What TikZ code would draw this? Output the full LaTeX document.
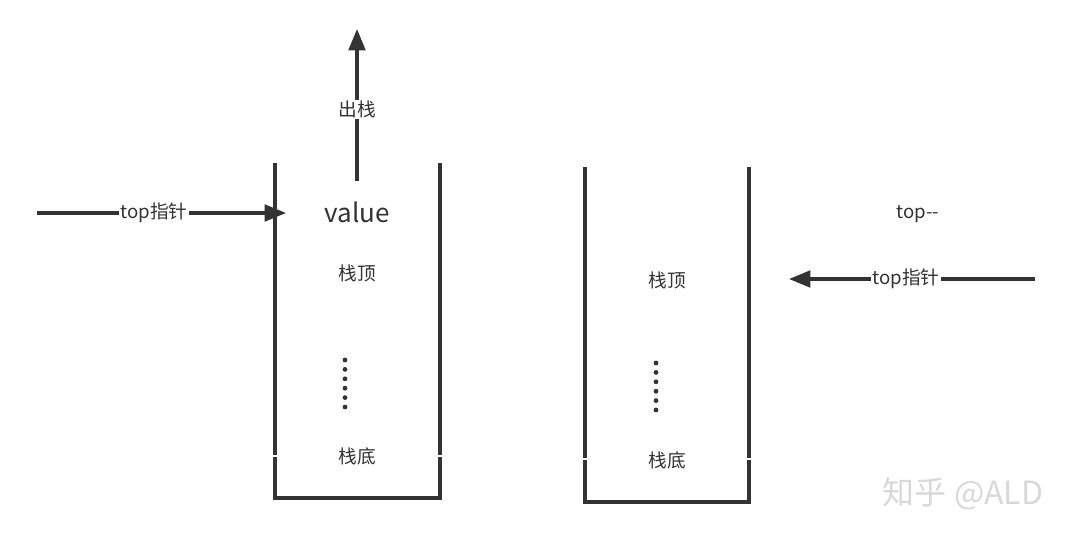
\documentclass[tikz,border=0pt]{standalone}
\usepackage{fontspec}
\setmainfont{Noto Sans CJK SC}
\usetikzlibrary{arrows.meta}
\definecolor{ink}{HTML}{333333}
\definecolor{wm}{HTML}{D8D8D8}
\tikzset{
  wall/.style={draw=ink, line width=2.4pt},
  arr/.style={draw=ink, line width=2.3pt, -{Triangle[length=16pt,width=12.5pt]}},
  lbl/.style={font=\fontsize{14pt}{16pt}\selectfont, text=ink, inner sep=1pt},
  lblw/.style={lbl, fill=white},
  dotst/.style={fill=ink, circle, inner sep=0pt, minimum size=3.6pt},
}
\begin{document}
\begin{tikzpicture}[x=0.75pt, y=-0.75pt]
\useasboundingbox (0,0) rectangle (1073,540);
% left stack
\coordinate (L1) at (275,163); \coordinate (L2) at (275,455);
\coordinate (R1) at (440,163); \coordinate (R2) at (440,455);
\coordinate (L3) at (275,456.5); \coordinate (L4) at (275,498);
\coordinate (R3) at (440,456.5); \coordinate (R4) at (440,498);
\draw[wall] (L1) -- (L2);
\draw[wall] (R1) -- (R2);
\draw[wall] (L3) -- (L4) -- (R4) -- (R3);
% right stack
\coordinate (M1) at (585,167); \coordinate (M2) at (585,458);
\coordinate (N1) at (749,167); \coordinate (N2) at (749,458);
\coordinate (M3) at (585,459.5); \coordinate (M4) at (585,502);
\coordinate (N3) at (749,459.5); \coordinate (N4) at (749,502);
\draw[wall] (M1) -- (M2);
\draw[wall] (N1) -- (N2);
\draw[wall] (M3) -- (M4) -- (N4) -- (N3);
% texts in left stack
\node[font=\fontsize{19.5pt}{22pt}\selectfont, text=ink, inner sep=1pt] (value) at (357,212) {value};
\node[lbl] (top1) at (357,273) {栈顶};
\node[lbl] (bot1) at (357,456) {栈底};
\foreach \i in {0,...,5} \node[dotst] (da\i) at (345,360+9.4*\i) {};
% texts in right stack
\node[lbl] (top2) at (667,280) {栈顶};
\node[lbl] (bot2) at (667,460) {栈底};
\foreach \i in {0,...,5} \node[dotst] (db\i) at (656,363+9.4*\i) {};
% pop arrow
\coordinate (popS) at (357,181);
\coordinate (popE) at (357,29);
\draw[arr] (popS) -- (popE) node[lblw, pos=0.47] (popL) {出栈};
% left pointer arrow
\coordinate (p1S) at (37,213);
\coordinate (p1E) at (286,213);
\draw[arr] (p1S) -- (p1E) node[lblw, pos=0.47] (p1L) {top指针};
% right pointer arrow
\coordinate (p2S) at (1035,279);
\coordinate (p2E) at (789,279);
\draw[arr] (p2S) -- (p2E) node[lblw, pos=0.525] (p2L) {top指针};
\node[lbl] (dec) at (918,214) {top-{}-};
% watermark
\node[font=\fontsize{24pt}{26pt}\selectfont, text=wm, inner sep=0pt] (mark) at (963,494) {知乎 @ALD};
\end{tikzpicture}
\end{document}
